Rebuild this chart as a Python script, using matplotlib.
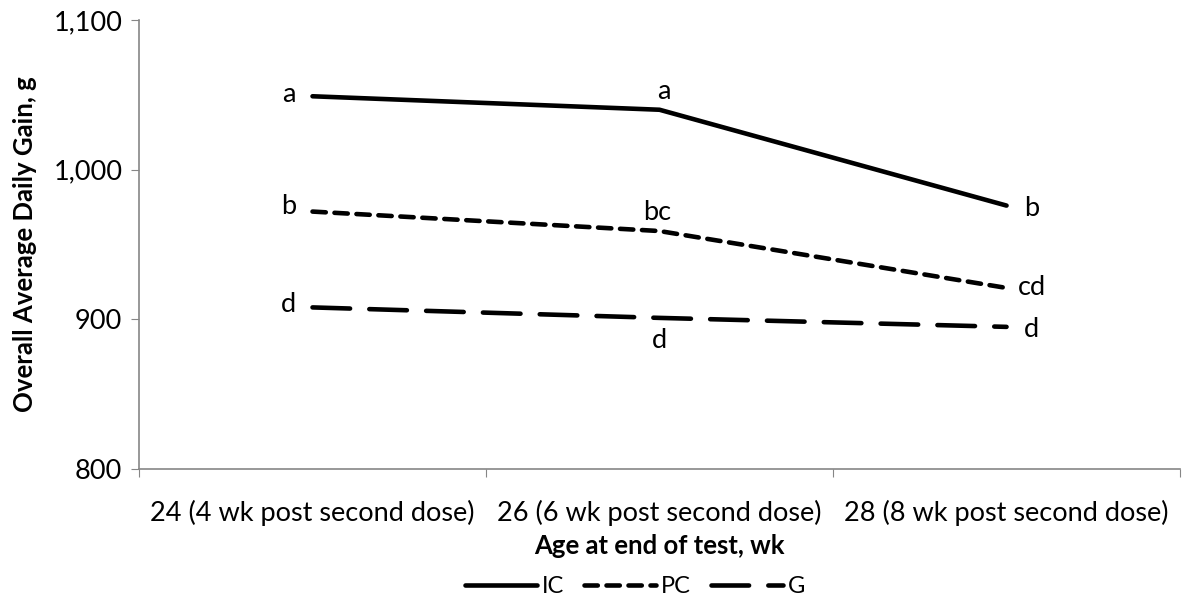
import matplotlib.pyplot as plt
import numpy as np

plt.rcParams['font.family'] = ['Lato', 'DejaVu Sans']

categories = ["24 (4 wk post second dose)", "26 (6 wk post second dose)", "28 (8 wk post second dose)"]
ic = [1049, 1040, 976]
pc = [972, 959, 921]
g = [908, 901, 895]
ic_lab = ["a", "a", "b"]
pc_lab = ["b", "bc", "cd"]
g_lab = ["d", "d", "d"]

fig = plt.figure(figsize=(11.83, 6.03), dpi=100)
ax = fig.add_axes([0.1175, 0.222, 0.88, 0.745])
x = np.arange(len(categories))

lw = 3.3
l1, = ax.plot(x, ic, color='black', lw=lw, solid_capstyle='round', label='IC')
l2, = ax.plot(x, pc, color='black', lw=lw, dashes=(2.9, 1.9), dash_capstyle='round', label='PC')
l3, = ax.plot(x, g, color='black', lw=lw, dashes=(8.2, 4.2), dash_capstyle='round', label='G')

fs = 19.5
# letter offsets in points from each data point
offs = {
    'IC': [(-17, 1), (3, 13), (18, -2)],
    'PC': [(-17, 4), (-2, 13), (18, 0)],
    'G': [(-17, 2), (0, -16), (18, -2)],
}
for name, vals, labs in [('IC', ic, ic_lab), ('PC', pc, pc_lab), ('G', g, g_lab)]:
    for i, (v, t) in enumerate(zip(vals, labs)):
        dx, dy = offs[name][i]
        ax.annotate(t, (x[i], v), xytext=(dx, dy), textcoords='offset points',
                    ha='center', va='center', fontsize=fs)

ax.set_ylim(800, 1100)
ax.set_yticks([800, 900, 1000, 1100])
ax.set_yticklabels(["800", "900", "1,000", "1,100"], fontsize=fs)
ax.set_xlim(-0.5, 2.5)
ax.set_xticks([-0.5, 0.5, 1.5, 2.5])
ax.set_xticklabels([])
ax.set_xticks(x, minor=True)
ax.set_xticklabels(categories, minor=True, fontsize=fs)
ax.tick_params(axis='x', which='minor', length=0, pad=22)
ax.tick_params(axis='x', which='major', length=6, color='#868686')
ax.tick_params(axis='y', length=6, color='#868686', pad=6)

for s in ['top', 'right']:
    ax.spines[s].set_visible(False)
for s in ['left', 'bottom']:
    ax.spines[s].set_color('#868686')
    ax.spines[s].set_linewidth(1.2)

ax.set_ylabel("Overall Average Daily Gain, g", fontsize=fs - 1, fontweight='bold', labelpad=12)
ax.set_xlabel("Age at end of test, wk", fontsize=fs - 1, fontweight='bold', labelpad=6)

fig.legend(handles=[l1, l2, l3], loc='lower center', bbox_to_anchor=(0.537, -0.025), ncol=3,
           frameon=False, fontsize=17, handlelength=3.05, handletextpad=0.2, columnspacing=0.85)

fig.savefig("out.png", dpi=100)
